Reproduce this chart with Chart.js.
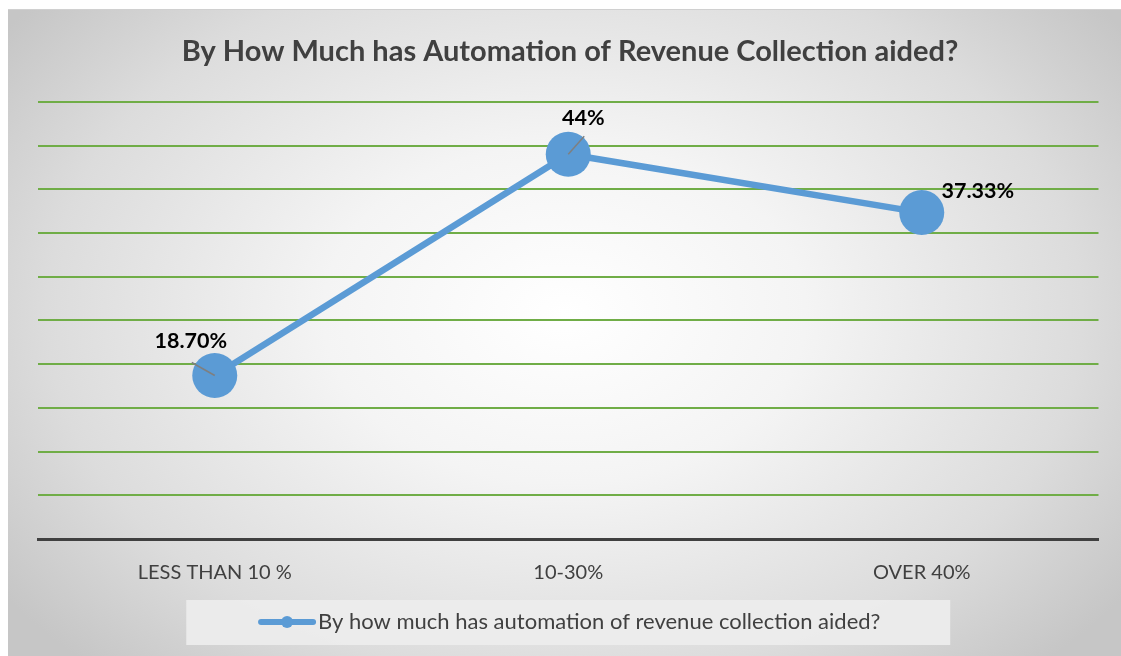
<!DOCTYPE html>
<html>
<head>
<meta charset="utf-8">
<script src="https://cdn.jsdelivr.net/npm/chart.js@4"></script>
<style>
    html, body { margin: 0; padding: 0; background: #fff; }
    #frame {
        position: absolute;
        left: 8px;
        top: 9px;
        width: 1113px;
        height: 647px;
        border-top: 1px solid #d0d0d0;
        box-sizing: border-box;
        background: radial-gradient(ellipse 62% 75% at 50% 47%, #ffffff 0%, #f4f4f4 35%, #dcdcdc 75%, #c6c6c6 100%);
    }
</style>
</head>
<body>
<div id="frame"><canvas id="chart"></canvas></div>
<script>
const categories = ['LESS THAN 10 %', '10-30%', 'OVER 40%'];
const values = [18.70, 44, 37.33];
const valueDecimals = [2, 0, 2];
const seriesName = 'By how much has automation of revenue collection aided?';
const chartTitle = 'By How Much has Automation of Revenue Collection aided?';

const FONT = 'Lato, "Open Sans", sans-serif';
const BLUE = '#5b9bd5';

// label offsets from each point, and where the leader line starts
const labelOffsets = [
    { dx: -24, dy: -34, lx: -23, ly: -13 },
    { dx: 15, dy: -36, lx: 16, ly: -18 },
    { dx: 56, dy: -22, lx: null, ly: null }
];

const dataLabels = {
    id: 'data-labels',
    afterDatasetsDraw(chart) {
        const ctx = chart.ctx;
        const meta = chart.getDatasetMeta(0);
        ctx.save();
        meta.data.forEach((pt, i) => {
            const off = labelOffsets[i];
            if (off.lx !== null) {
                ctx.strokeStyle = '#7f7f7f';
                ctx.lineWidth = 1.5;
                ctx.beginPath();
                ctx.moveTo(pt.x + off.lx, pt.y + off.ly);
                ctx.lineTo(pt.x, pt.y);
                ctx.stroke();
            }
            ctx.fillStyle = '#000';
            ctx.font = `bold 21.5px ${FONT}`;
            ctx.textAlign = 'center';
            ctx.textBaseline = 'middle';
            ctx.fillText(values[i].toFixed(valueDecimals[i]) + '%', pt.x + off.dx, pt.y + off.dy);
        });
        ctx.restore();
    }
};

const boxedLegend = {
    id: 'boxed-legend',
    afterDraw(chart) {
        const ctx = chart.ctx;
        const area = chart.chartArea;
        const cx = (area.left + area.right) / 2;
        const cy = 612;
        ctx.save();
        ctx.fillStyle = 'rgba(236,236,236,0.95)';
        ctx.fillRect(cx - 382, cy - 22, 764, 45);

        ctx.font = `22px ${FONT}`;
        const textW = ctx.measureText(seriesName).width;
        const markW = 58;
        const startX = cx + 1 - (markW + 2 + textW) / 2;
        ctx.strokeStyle = BLUE;
        ctx.lineWidth = 6;
        ctx.lineCap = 'round';
        ctx.beginPath();
        ctx.moveTo(startX + 3, cy);
        ctx.lineTo(startX + markW - 3, cy);
        ctx.stroke();
        ctx.fillStyle = BLUE;
        ctx.beginPath();
        ctx.arc(startX + markW / 2, cy, 6, 0, Math.PI * 2);
        ctx.fill();

        ctx.fillStyle = '#404040';
        ctx.textAlign = 'left';
        ctx.textBaseline = 'middle';
        ctx.fillText(seriesName, startX + markW + 2, cy);
        ctx.restore();
    }
};

new Chart(document.getElementById('chart'), {
    type: 'line',
    data: {
        labels: categories,
        datasets: [{
            label: seriesName,
            data: values,
            borderColor: BLUE,
            backgroundColor: BLUE,
            borderWidth: 6.5,
            pointRadius: 22.5,
            pointHoverRadius: 22.5,
            pointBorderWidth: 0,
            tension: 0
        }]
    },
    options: {
        responsive: true,
        maintainAspectRatio: false,
        animation: false,
        layout: {
            padding: { left: 30, right: 19, top: 0, bottom: 49 }
        },
        scales: {
            x: {
                offset: true,
                grid: { display: false, drawTicks: false, offset: true },
                border: { color: '#404040', width: 3 },
                ticks: {
                    color: '#404040',
                    font: { family: FONT, size: 20 },
                    padding: 22
                }
            },
            y: {
                min: 0,
                max: 50,
                grid: {
                    drawTicks: false,
                    lineWidth: 2,
                    color: c => c.tick.value === 0 ? 'transparent' : '#70ad47'
                },
                border: { display: false },
                ticks: { display: false, stepSize: 5 }
            }
        },
        plugins: {
            legend: { display: false },
            tooltip: { enabled: false },
            title: {
                display: true,
                text: chartTitle,
                color: '#404040',
                font: { family: FONT, size: 29, weight: 'bold' },
                padding: { top: 24, bottom: 33 }
            }
        }
    },
    plugins: [dataLabels, boxedLegend]
});
</script>
</body>
</html>
